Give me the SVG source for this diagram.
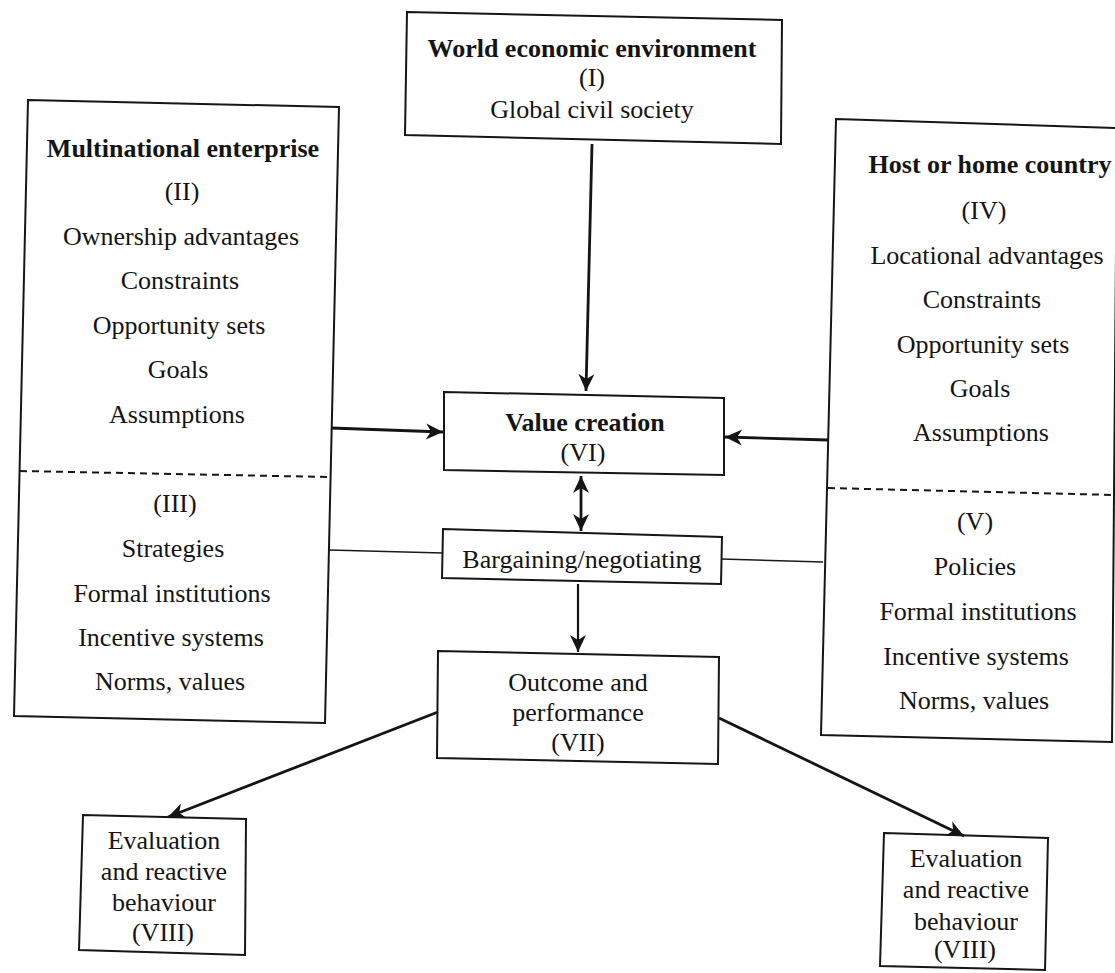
<svg xmlns="http://www.w3.org/2000/svg" width="1115" height="973" viewBox="0 0 1115 973">
<style>
  .box { fill: none; stroke: #161616; stroke-width: 2; stroke-linejoin: miter; }
  .dash { fill: none; stroke: #161616; stroke-width: 2; stroke-dasharray: 7 5; }
  .t { font-family: "Liberation Serif", "Times New Roman", serif; font-size: 26px; fill: #141414; text-anchor: middle; }
  .b { font-weight: bold; }
  .arrow { fill: none; stroke: #141414; stroke-width: 2.8; }
  .thin { fill: none; stroke: #141414; stroke-width: 2.2; }
  .line { fill: none; stroke: #1a1a1a; stroke-width: 1.6; }
</style>
<defs>
  <marker id="ah" markerUnits="userSpaceOnUse" viewBox="-1 -10 20 20" markerWidth="20" markerHeight="20" refX="17" refY="0" orient="auto-start-reverse">
    <path d="M0,-8 L17,0 L0,8 L5,0 z" fill="#141414"/>
  </marker>
</defs>
<rect width="1115" height="973" fill="#ffffff"/>

<g id="connectors">
  <line class="arrow" x1="592" y1="144" x2="586" y2="391" marker-end="url(#ah)"/>
  <line class="arrow" x1="331" y1="428" x2="443" y2="432" marker-end="url(#ah)"/>
  <line class="arrow" x1="828" y1="440" x2="725" y2="437" marker-end="url(#ah)"/>
  <line class="arrow" x1="581" y1="476" x2="581" y2="531" marker-start="url(#ah)" marker-end="url(#ah)"/>
  <line class="thin" x1="578" y1="584" x2="578" y2="652" marker-end="url(#ah)"/>
  <line class="line" x1="329" y1="550" x2="443" y2="553"/>
  <line class="line" x1="721" y1="559" x2="823" y2="562"/>
  <line class="arrow" x1="438" y1="712" x2="168" y2="817" marker-end="url(#ah)"/>
  <line class="arrow" x1="719" y1="718" x2="964" y2="836" marker-end="url(#ah)"/>
</g>

<g id="world">
  <path class="box" d="M407,12 L782,20 L781,144 L405,135 Z"/>
  <text class="t b" x="592" y="57">World economic environment</text>
  <text class="t" x="592" y="86">(I)</text>
  <text class="t" x="592" y="118">Global civil society</text>
</g>

<g id="mne">
  <path class="box" d="M28,100 L339,107 L325,723 L14,716 Z"/>
  <line class="dash" x1="20" y1="471" x2="329" y2="477"/>
  <text class="t b" x="183" y="157">Multinational enterprise</text>
  <text class="t" x="182" y="200">(II)</text>
  <text class="t" x="181" y="245">Ownership advantages</text>
  <text class="t" x="180" y="289">Constraints</text>
  <text class="t" x="179" y="334">Opportunity sets</text>
  <text class="t" x="178" y="378">Goals</text>
  <text class="t" x="177" y="423">Assumptions</text>
  <text class="t" x="175" y="512">(III)</text>
  <text class="t" x="173" y="557">Strategies</text>
  <text class="t" x="172" y="602">Formal institutions</text>
  <text class="t" x="171" y="646">Incentive systems</text>
  <text class="t" x="170" y="690">Norms, values</text>
</g>

<g id="host">
  <path class="box" d="M836,119 L1117,128 L1112,742 L821,735 Z"/>
  <line class="dash" x1="828" y1="488" x2="1115" y2="495"/>
  <text class="t b" x="990" y="173">Host or home country</text>
  <text class="t" x="984" y="219">(IV)</text>
  <text class="t" x="987" y="264">Locational advantages</text>
  <text class="t" x="982" y="308">Constraints</text>
  <text class="t" x="983" y="353">Opportunity sets</text>
  <text class="t" x="980" y="397">Goals</text>
  <text class="t" x="981" y="441">Assumptions</text>
  <text class="t" x="975" y="530">(V)</text>
  <text class="t" x="975" y="575">Policies</text>
  <text class="t" x="978" y="620">Formal institutions</text>
  <text class="t" x="976" y="665">Incentive systems</text>
  <text class="t" x="974" y="709">Norms, values</text>
</g>

<g id="value">
  <path class="box" d="M444,392 L724,398 L724,475 L444,470 Z"/>
  <text class="t b" x="585" y="431">Value creation</text>
  <text class="t" x="583" y="461">(VI)</text>
</g>

<g id="bargaining">
  <path class="box" d="M443,529 L722,537 L721,584 L442,578 Z"/>
  <text class="t" x="582" y="568">Bargaining/negotiating</text>
</g>

<g id="outcome">
  <path class="box" d="M438,651 L719,657 L718,764 L437,758 Z"/>
  <text class="t" x="578" y="691">Outcome and</text>
  <text class="t" x="578" y="721">performance</text>
  <text class="t" x="578" y="751">(VII)</text>
</g>

<g id="eval-left">
  <path class="box" d="M83,815 L246,819 L245,955 L79,950 Z"/>
  <text class="t" x="164" y="849">Evaluation</text>
  <text class="t" x="164" y="880">and reactive</text>
  <text class="t" x="164" y="911">behaviour</text>
  <text class="t" x="163" y="941">(VIII)</text>
</g>

<g id="eval-right">
  <path class="box" d="M884,833 L1048,838 L1045,970 L880,966 Z"/>
  <text class="t" x="966" y="867">Evaluation</text>
  <text class="t" x="966" y="898">and reactive</text>
  <text class="t" x="966" y="930">behaviour</text>
  <text class="t" x="965" y="958">(VIII)</text>
</g>
</svg>
